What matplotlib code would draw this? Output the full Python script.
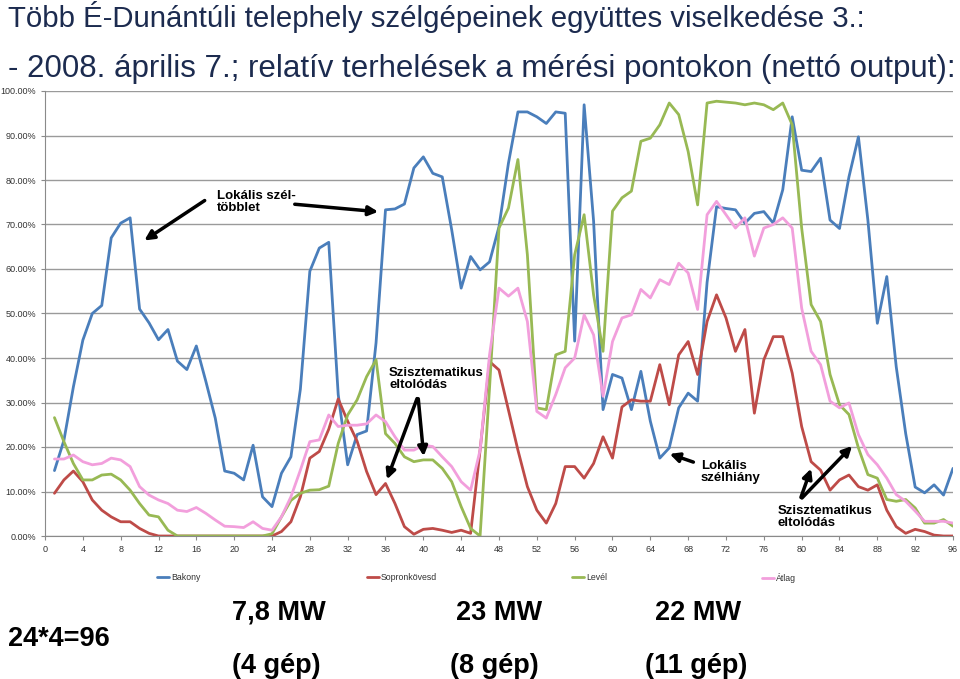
import matplotlib
matplotlib.use("Agg")
import matplotlib.pyplot as plt
from matplotlib.ticker import PercentFormatter, MultipleLocator
import numpy as np

plt.rcParams['font.family'] = ['Liberation Sans', 'DejaVu Sans']

x = list(range(1, 97))

bakony = [14.7, 21.5, 33.5, 44.0, 50.0, 51.8, 67.0, 70.3, 71.5, 51.0,
          47.9, 44.1, 46.4, 39.3, 37.4, 42.7, 34.8, 26.5, 14.6, 14.1,
          12.6, 20.4, 8.8, 6.6, 14.1, 17.8, 33.0, 59.5, 64.7, 66.0,
          31.8, 16.0, 22.8, 23.6, 43.4, 73.3, 73.5, 74.6, 82.7, 85.2,
          81.5, 80.7, 68.8, 55.7, 62.8, 59.8, 61.6, 69.5, 83.8, 95.3,
          95.3, 94.2, 92.7, 95.3, 95.0, 43.8, 96.9, 70.8, 28.4, 36.3,
          35.5, 28.4, 37.0, 25.8, 17.5, 19.8, 28.8, 32.1, 30.3, 57.0,
          74.0, 73.6, 73.3, 70.3, 72.5, 72.9, 70.3, 77.8, 94.2, 82.2,
          81.9, 84.9, 71.0, 69.1, 80.7, 89.7, 71.0, 47.8, 58.3, 38.0,
          23.0, 11.0, 9.7, 11.5, 9.2, 15.2]

sopronkovesd = [9.6, 12.6, 14.6, 12.2, 8.1, 5.8, 4.3, 3.2, 3.2, 1.7,
                0.6, 0, 0, 0, 0, 0, 0, 0, 0, 0,
                0, 0, 0, 0, 1.0, 3.2, 8.8, 17.5, 19.0, 24.0,
                30.8, 25.8, 21.3, 14.5, 9.3, 11.8, 7.3, 2.1, 0.4, 1.5,
                1.7, 1.3, 0.8, 1.3, 0.6, 19.3, 39.2, 37.3, 28.3, 19.3,
                11.1, 5.8, 2.9, 7.3, 15.6, 15.6, 13.0, 16.3, 22.3, 17.5,
                29.0, 30.6, 30.3, 30.3, 38.5, 29.5, 40.7, 43.7, 36.3, 48.2,
                54.2, 49.0, 41.5, 46.4, 27.6, 39.6, 44.8, 44.8, 36.6, 24.6,
                16.7, 14.8, 10.3, 12.6, 13.7, 11.1, 10.3, 11.5, 5.8, 2.1,
                0.6, 1.5, 1.0, 0.2, 0, 0]

level = [26.6, 21.2, 16.3, 12.6, 12.6, 13.7, 13.9, 12.6, 10.3, 7.3,
         4.7, 4.3, 1.3, 0, 0, 0, 0, 0, 0, 0,
         0, 0, 0, 0.5, 4.3, 8.0, 9.6, 10.3, 10.4, 11.2,
         20.8, 27.2, 30.6, 35.8, 39.6, 23.0, 20.8, 17.8, 16.7, 17.1,
         17.1, 15.2, 12.2, 6.6, 1.7, 0, 33.3, 69.2, 73.7, 84.6,
         63.2, 28.8, 28.4, 40.7, 41.5, 63.2, 72.2, 54.2, 41.5, 73.0,
         76.0, 77.5, 88.7, 89.4, 92.4, 97.3, 94.7, 86.4, 74.4, 97.3,
         97.7, 97.5, 97.3, 96.9, 97.3, 96.9, 95.8, 97.3, 92.4, 69.2,
         52.0, 48.2, 36.3, 29.5, 27.3, 19.8, 13.8, 13.0, 8.2, 7.8,
         8.2, 6.3, 2.9, 2.9, 3.7, 2.2]

atlag = [17.3, 17.3, 18.2, 16.7, 16.0, 16.3, 17.5, 17.1, 15.6, 11.1,
         9.2, 8.1, 7.3, 5.8, 5.5, 6.4, 5.1, 3.6, 2.2, 2.1,
         1.9, 3.2, 1.7, 1.3, 4.3, 8.8, 14.8, 21.2, 21.6, 27.2,
         24.6, 24.9, 24.9, 25.2, 27.2, 25.7, 22.3, 19.3, 19.3, 20.4,
         20.1, 17.8, 15.6, 12.2, 10.3, 19.3, 40.7, 55.7, 53.9, 55.7,
         48.2, 28.0, 26.5, 31.8, 37.8, 40.0, 49.7, 45.2, 31.4, 43.7,
         49.0, 49.7, 55.4, 53.5, 57.6, 56.5, 61.3, 59.1, 50.9, 72.2,
         75.2, 72.2, 69.2, 71.5, 62.9, 69.2, 70.0, 71.5, 69.2, 51.2,
         41.5, 38.5, 30.3, 28.8, 29.9, 22.8, 18.3, 16.0, 13.0, 9.3,
         7.8, 5.6, 3.3, 3.3, 3.3, 2.9]

series_names = ['Bakony', 'Sopronkövesd', 'Levél', 'Átlag']
series_values = [bakony, sopronkovesd, level, atlag]
series_colors = ['#4A7EBB', '#BE4B48', '#98B954', '#F29FDC']

title_lines = ["Több É-Dunántúli telephely szélgépeinek együttes viselkedése 3.:",
               "- 2008. április 7.; relatív terhelések a mérési pontokon (nettó output):"]

W, H = 960, 679
fig = plt.figure(figsize=(W / 100, H / 100), dpi=100)
fig.patch.set_facecolor('white')

ax = fig.add_axes([45 / W, (H - 536) / H, 908 / W, 445 / H])
lines = []
for name, vals, col in zip(series_names, series_values, series_colors):
    ln, = ax.plot(x, np.array(vals) / 100.0, color=col, lw=2.0, label=name,
                  solid_joinstyle='round', solid_capstyle='round')
    lines.append(ln)

ax.set_xlim(0, 96)
ax.set_ylim(0, 1.0)
ax.xaxis.set_major_locator(MultipleLocator(4))
ax.yaxis.set_major_locator(MultipleLocator(0.1))
ax.yaxis.set_major_formatter(PercentFormatter(xmax=1.0, decimals=2))
ax.grid(axis='y', color='#9a9a9a', lw=1.0)
ax.set_axisbelow(True)
for s in ['top', 'right']:
    ax.spines[s].set_visible(False)
for s in ['left', 'bottom']:
    ax.spines[s].set_color('#8a8a8a')
ax.tick_params(axis='both', labelsize=6.5, colors='#8a8a8a', labelcolor='#333333',
               length=3, width=0.8)

# legend entries
leg_x = [157, 367, 572, 762]
for ln, lx in zip(lines, leg_x):
    lg = fig.legend(handles=[ln], loc='center left',
                    bbox_to_anchor=(lx / W, 1 - 578 / H), frameon=False,
                    fontsize=6.3, handlelength=1.4, handletextpad=0.2,
                    borderaxespad=0, borderpad=0)
    for t in lg.get_texts():
        t.set_color('#333333')

# titles
fig.text(8 / W, 1 - 17 / H, title_lines[0], fontsize=21.2, color='#1c2b4f',
         va='center', ha='left')
fig.text(8 / W, 1 - 69 / H, title_lines[1], fontsize=22.5, color='#1c2b4f',
         va='center', ha='left')

# annotations
def ptx(px, py):
    return (px / W, 1 - py / H)

akw = dict(arrowstyle='-|>', color='black', lw=2.5, mutation_scale=14)
afs = 9.5
fig.text(*ptx(217, 202), "Lokális szél-\ntöbblet", fontsize=afs, weight='bold',
         va='center', ha='left', linespacing=1.1)
ax.annotate('', xy=ptx(142, 242), xytext=ptx(207, 199), xycoords='figure fraction',
            textcoords='figure fraction', arrowprops=akw)
ax.annotate('', xy=ptx(381, 212), xytext=ptx(292, 204), xycoords='figure fraction',
            textcoords='figure fraction', arrowprops=akw)

fig.text(*ptx(389, 379), "Szisztematikus\neltolódás", fontsize=afs, weight='bold',
         va='center', ha='left', linespacing=1.1)
ax.annotate('', xy=ptx(386, 482), xytext=ptx(418, 396), xycoords='figure fraction',
            textcoords='figure fraction', arrowprops=akw)
ax.annotate('', xy=ptx(424, 459), xytext=ptx(418, 396), xycoords='figure fraction',
            textcoords='figure fraction', arrowprops=akw)

fig.text(*ptx(701, 472), "Lokális\nszélhiány", fontsize=afs, weight='bold',
         va='center', ha='left', linespacing=1.1)
ax.annotate('', xy=ptx(667, 453), xytext=ptx(696, 463), xycoords='figure fraction',
            textcoords='figure fraction', arrowprops=akw)

fig.text(*ptx(778, 517), "Szisztematikus\neltolódás", fontsize=afs, weight='bold',
         va='center', ha='left', linespacing=1.1)
ax.annotate('', xy=ptx(812, 466), xytext=ptx(800, 500), xycoords='figure fraction',
            textcoords='figure fraction', arrowprops=akw)
ax.annotate('', xy=ptx(854, 444), xytext=ptx(800, 500), xycoords='figure fraction',
            textcoords='figure fraction', arrowprops=akw)

# bottom texts
bkw = dict(fontsize=19.5, weight='bold', color='black', va='center', ha='left')
fig.text(*ptx(8, 639), "24*4=96", **bkw)
fig.text(*ptx(232, 613), "7,8 MW", **bkw)
fig.text(*ptx(456, 613), "23 MW", **bkw)
fig.text(*ptx(655, 613), "22 MW", **bkw)
fig.text(*ptx(232, 666), "(4 gép)", **bkw)
fig.text(*ptx(450, 666), "(8 gép)", **bkw)
fig.text(*ptx(645, 666), "(11 gép)", **bkw)

fig.savefig('out.png', dpi=100, facecolor='white')
